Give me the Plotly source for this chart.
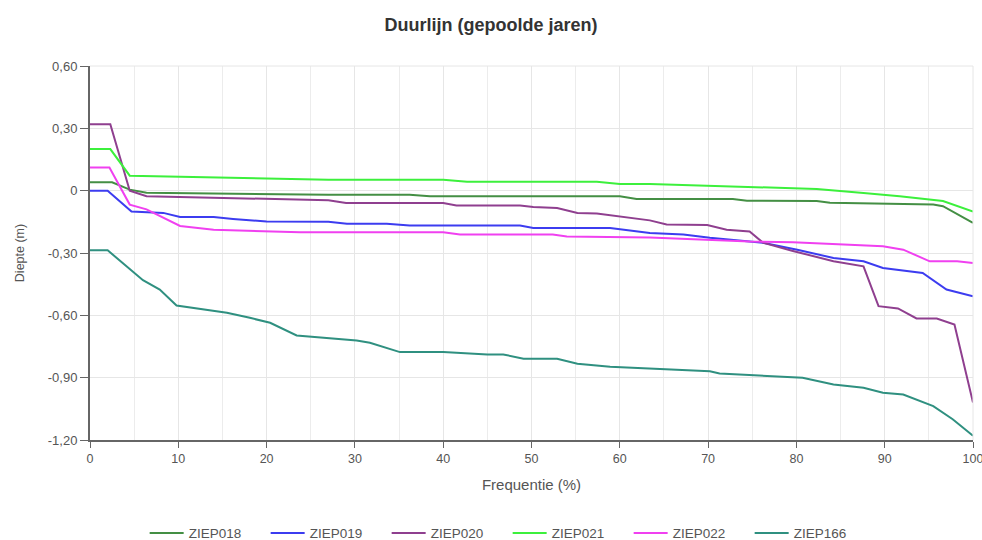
import plotly.graph_objects as go

series_names = ["ZIEP018", "ZIEP019", "ZIEP020", "ZIEP021", "ZIEP022", "ZIEP166"]

x_ziep018 = [0, 2.5, 4.5, 6.4, 27, 36.2, 38.5, 60, 61.9, 72.8, 74.4, 82.3, 83.8, 95.5, 96.6, 100]
y_ziep018 = [0.04, 0.04, 0.005, -0.01, -0.02, -0.02, -0.027, -0.027, -0.04, -0.04, -0.048, -0.05, -0.058, -0.067, -0.075, -0.155]

x_ziep019 = [0, 2, 4.7, 8.3, 10.2, 14, 16.2, 20, 27, 29.1, 33.6, 36.2, 48.7, 50.2, 58.9, 63.4, 67.2, 70.2, 76.2, 80.1, 84.2, 87.6, 89.8, 94.3, 97, 100]
y_ziep019 = [0, 0, -0.10, -0.107, -0.127, -0.127, -0.136, -0.148, -0.15, -0.159, -0.159, -0.168, -0.168, -0.18, -0.18, -0.204, -0.211, -0.227, -0.251, -0.284, -0.324, -0.34, -0.372, -0.396, -0.476, -0.508]

x_ziep020 = [0, 2.3, 4.5, 6.4, 27, 29, 40, 41.5, 48.7, 50.2, 52.9, 55.2, 57.4, 60, 63.4, 65.3, 69.9, 72.1, 74.7, 76.2, 79.6, 84.2, 87.6, 89.3, 91.5, 93.6, 95.9, 97.9, 100]
y_ziep020 = [0.32, 0.32, 0.0, -0.027, -0.046, -0.059, -0.059, -0.071, -0.071, -0.079, -0.083, -0.107, -0.11, -0.123, -0.143, -0.163, -0.165, -0.188, -0.196, -0.25, -0.29, -0.34, -0.364, -0.556, -0.567, -0.615, -0.615, -0.644, -1.02]

x_ziep021 = [0, 2.3, 4.5, 19, 27, 40, 42.7, 57.4, 60, 63.4, 69.9, 76.6, 82.3, 87.6, 91.7, 96.6, 100]
y_ziep021 = [0.20, 0.20, 0.072, 0.062, 0.053, 0.053, 0.043, 0.043, 0.032, 0.032, 0.024, 0.016, 0.008, -0.011, -0.027, -0.05, -0.1]

x_ziep022 = [0, 2.2, 4.5, 6.4, 10.2, 14, 23.8, 40, 41.9, 52.4, 54, 63.4, 74.7, 79.6, 86, 89.8, 92.1, 95.1, 98.2, 100]
y_ziep022 = [0.112, 0.112, -0.067, -0.09, -0.17, -0.188, -0.2, -0.2, -0.211, -0.211, -0.22, -0.226, -0.245, -0.248, -0.26, -0.268, -0.284, -0.34, -0.34, -0.348]

x_ziep166 = [0, 2, 6, 7.9, 9.8, 12.5, 15.5, 18.1, 20.4, 23.4, 27, 30.2, 31.7, 35.1, 40, 45, 46.8, 49.1, 52.9, 55.2, 58.9, 63.4, 70.2, 71.3, 79.6, 80.7, 84.2, 87.6, 89.8, 92.1, 95.5, 97.7, 100]
y_ziep166 = [-0.287, -0.287, -0.431, -0.476, -0.553, -0.569, -0.588, -0.612, -0.636, -0.697, -0.708, -0.721, -0.732, -0.777, -0.777, -0.788, -0.788, -0.809, -0.809, -0.833, -0.848, -0.857, -0.869, -0.88, -0.9, -0.9, -0.933, -0.949, -0.973, -0.981, -1.037, -1.1, -1.18]

y_tick_vals = [0.6, 0.3, 0, -0.3, -0.6, -0.9, -1.2]
y_tick_text = ["0,60", "0,30", "0", "-0,30", "-0,60", "-0,90", "-1,20"]
x_tick_vals = [0, 10, 20, 30, 40, 50, 60, 70, 80, 90, 100]
x_tick_text = ["0", "10", "20", "30", "40", "50", "60", "70", "80", "90", "100"]

colors = ["#448f44", "#3c3cf0", "#8f3f8f", "#3cf03c", "#f040f0", "#2f9080"]

xs = [x_ziep018, x_ziep019, x_ziep020, x_ziep021, x_ziep022, x_ziep166]
ys = [y_ziep018, y_ziep019, y_ziep020, y_ziep021, y_ziep022, y_ziep166]

fig = go.Figure()
for name, x, y, c in zip(series_names, xs, ys, colors):
    fig.add_trace(go.Scatter(x=x, y=y, mode="lines", name=name,
                             line=dict(color=c, width=2)))

font_family = "Liberation Sans, Arial, sans-serif"
W, H = 982, 540
fig.update_layout(
    width=W, height=H,
    margin=dict(l=90, r=9, t=66, b=100, autoexpand=False),
    paper_bgcolor="white", plot_bgcolor="white",
    font=dict(family=font_family, size=13, color="#555"),
    title=dict(text="<b>Duurlijn (gepoolde jaren)</b>", x=0.5, xanchor="center",
               y=1 - 25 / H, yanchor="middle",
               font=dict(size=18, color="#333", family=font_family)),
    legend=dict(orientation="h", x=0.473, xanchor="center", y=-0.249, yanchor="middle",
                font=dict(size=13.5, color="#555"), itemwidth=34,
                entrywidth=72, entrywidthmode="pixels"),
    showlegend=True,
)
fig.update_xaxes(
    range=[0, 100], tickvals=x_tick_vals, ticktext=x_tick_text,
    showgrid=True, gridcolor="#e6e6e6", gridwidth=1,
    minor=dict(dtick=5, showgrid=True, gridcolor="#ececec"),
    showline=True, linecolor="#666", linewidth=2,
    ticks="outside", ticklen=6, tickcolor="#666",
    zeroline=False, tickfont=dict(size=12.5), ticklabeloverflow="allow",
    title=dict(text="Frequentie (%)", font=dict(size=15), standoff=14),
)
fig.update_yaxes(
    range=[-1.2, 0.6], tickvals=y_tick_vals, ticktext=y_tick_text,
    showgrid=True, gridcolor="#e6e6e6", gridwidth=1,
    showline=True, linecolor="#666", linewidth=2,
    ticks="outside", ticklen=8, tickcolor="#666",
    zeroline=False, tickfont=dict(size=13),
    title=dict(text="Diepte (m)", font=dict(size=12.5), standoff=20),
)
fig.add_shape(type="line", xref="paper", yref="paper", x0=1, x1=1, y0=0, y1=1,
              line=dict(color="#e6e6e6", width=1))
fig.add_shape(type="line", xref="paper", yref="paper", x0=0, x1=1, y0=1, y1=1,
              line=dict(color="#e6e6e6", width=1))

fig.write_html("out.html", config={"displayModeBar": False},
               post_script="document.body.style.margin='0';")
